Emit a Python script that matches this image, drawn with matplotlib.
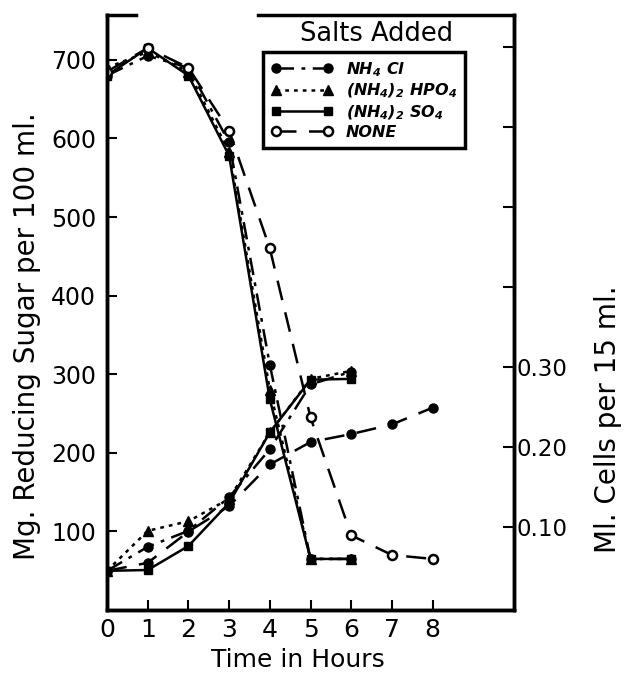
import matplotlib
matplotlib.use('Agg')
import matplotlib.pyplot as plt

plt.rcParams['font.family'] = ['DejaVu Sans']
plt.rcParams['mathtext.default'] = 'regular'

# time in hours
hours = [0, 1, 2, 3, 4, 5, 6]
hours_none = [0, 1, 2, 3, 4, 5, 6, 7, 8]

# mg reducing sugar per 100 ml
sugar_nh4cl = [680, 705, 690, 595, 312, 65, 65]
sugar_hpo4 = [690, 710, 685, 583, 280, 65, 65]
sugar_so4 = [680, 715, 680, 578, 268, 65, 65]
sugar_none = [685, 715, 690, 610, 460, 245, 95, 70, 65]

# ml cells per 15 ml
cells_nh4cl = [0.045, 0.075, 0.095, 0.137, 0.197, 0.278, 0.294]
cells_hpo4 = [0.045, 0.095, 0.107, 0.135, 0.218, 0.285, 0.295]
cells_so4 = [0.045, 0.046, 0.076, 0.130, 0.218, 0.284, 0.285]
cells_none = [0.045, 0.055, 0.094, 0.126, 0.178, 0.206, 0.216, 0.228, 0.249]

labels = [r'NH$_4$ Cl', r'(NH$_4$)$_2$ HPO$_4$', r'(NH$_4$)$_2$ SO$_4$', 'NONE']

fs = 17
lw = 1.8
ms = 6.5
dashdot = (0, (7, 3, 1.5, 3))
dotted = (0, (1.5, 2))
dashed = (0, (8, 5))

fig = plt.figure(figsize=(6.28, 6.73), dpi=100)
ax = fig.add_axes([0.1704, 0.0936, 0.6481, 0.8841])
ax2 = ax.twinx()

ax.set_xlim(0, 10)
ax.set_ylim(0, 757)
ax2.set_ylim(-0.004, 0.74)

# sugar curves
l1, = ax.plot(hours, sugar_nh4cl, color='k', lw=lw, ls=dashdot, marker='o', ms=ms)
l2, = ax.plot(hours, sugar_hpo4, color='k', lw=lw, ls=dotted, marker='^', ms=ms)
l3, = ax.plot(hours, sugar_so4, color='k', lw=lw, ls='-', marker='s', ms=ms - 0.5)
l4, = ax.plot(hours_none, sugar_none, color='k', lw=lw, ls=dashed, marker='o', ms=ms,
              mfc='white', mew=1.8)

# cell curves
ax2.plot(hours, cells_nh4cl, color='k', lw=lw, ls=dashdot, marker='o', ms=ms)
ax2.plot(hours, cells_hpo4, color='k', lw=lw, ls=dotted, marker='^', ms=ms)
ax2.plot(hours, cells_so4, color='k', lw=lw, ls='-', marker='s', ms=ms - 0.5)
ax2.plot(hours_none, cells_none, color='k', lw=lw, ls=dashed, marker='o', ms=ms)

ax.set_xticks(range(0, 9))
ax.set_xticklabels([str(i) for i in range(0, 9)])
ax.set_yticks(range(100, 701, 100))
ax.tick_params(axis='both', direction='in', length=7, width=1.5, labelsize=fs, pad=6)
ax.tick_params(axis='x', labelsize=18)
ax.tick_params(axis='y', pad=8)

rt = [0.1, 0.2, 0.3, 0.4, 0.5, 0.6, 0.7]
ax2.set_yticks(rt)
ax2.set_yticklabels(['0.10', '0.20', '0.30', '', '', '', ''])
ax2.tick_params(axis='y', direction='in', length=8, width=1.5, labelsize=16.5, pad=2)

for a in (ax, ax2):
    a.spines['top'].set_visible(False)
    for s in ('left', 'right', 'bottom'):
        a.spines[s].set_linewidth(2.5)

# pieces of top frame
ax.plot([0, 0.07], [1, 1], transform=ax.transAxes, color='k', lw=2.5, clip_on=False)
ax.plot([0.37, 1], [1, 1], transform=ax.transAxes, color='k', lw=2.5, clip_on=False)

ax.set_xlabel('Time in Hours', fontsize=18)
ax.xaxis.set_label_coords(0.47, -0.064)
ax.set_ylabel('Mg. Reducing Sugar per 100 ml.', fontsize=20)
ax.yaxis.set_label_coords(-0.162, 0.46)
ax2.set_ylabel('Ml. Cells per 15 ml.', fontsize=20)
ax2.yaxis.set_label_coords(1.197, 0.32)

ax.text(0.663, 0.968, 'Salts Added', transform=ax.transAxes, fontsize=18.5,
        ha='center', va='center')

leg = ax.legend([l1, l2, l3, l4], labels, loc='upper left', bbox_to_anchor=(0.383, 0.938),
                borderaxespad=0, numpoints=2, handlelength=3.9, handletextpad=0.8,
                fancybox=False, framealpha=1, edgecolor='k', borderpad=0.5,
                labelspacing=0.2,
                prop={'size': 11.5, 'weight': 'bold', 'style': 'italic'})
leg.get_frame().set_linewidth(2.5)
leg.set_zorder(10)

fig.savefig('out.png', dpi=100)
